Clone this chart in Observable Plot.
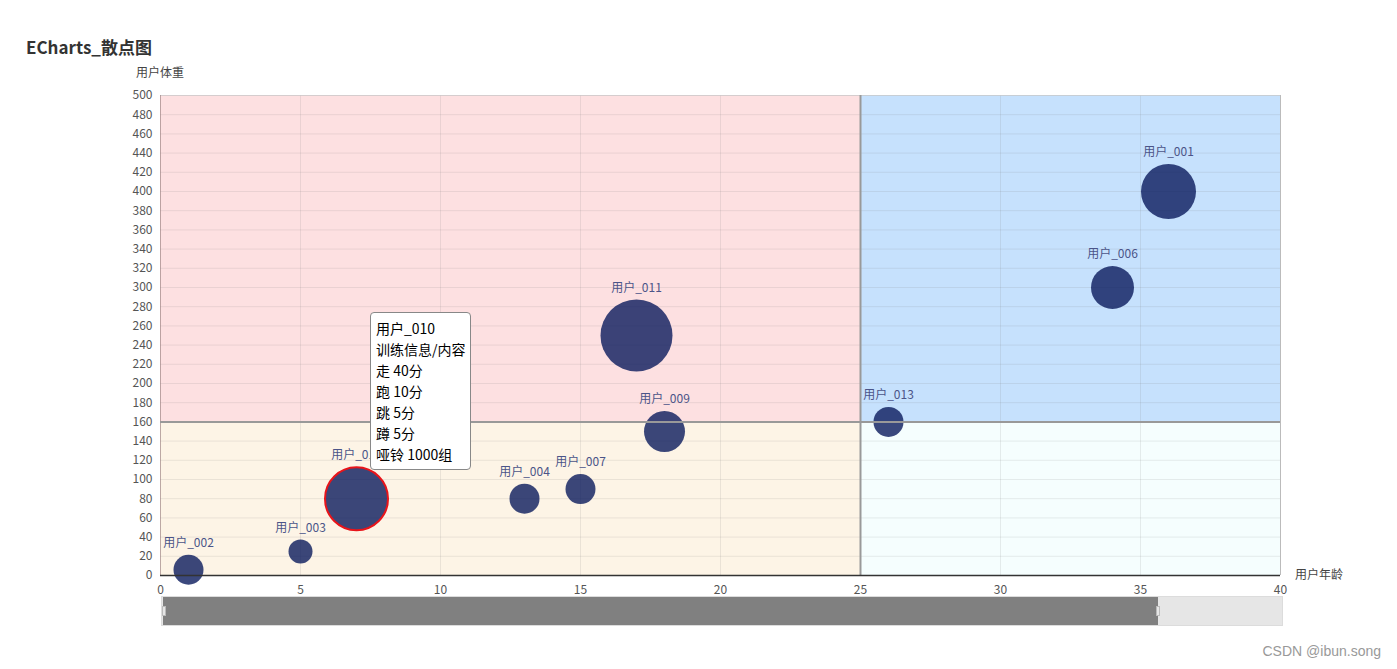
<!DOCTYPE html>
<html>
<head>
<meta charset="utf-8">
<script src="https://cdn.jsdelivr.net/npm/d3@7"></script>
<script src="https://cdn.jsdelivr.net/npm/@observablehq/plot@0.6"></script>
<style>
  html, body { margin: 0; padding: 0; background: #fff; }
  body { font-family: "Noto Sans CJK SC", "Noto Sans", sans-serif; }
  #wrap { position: relative; width: 1397px; height: 669px; overflow: hidden; }
  #chart { position: absolute; left: 0; top: 0; }
  .abs { position: absolute; white-space: nowrap; line-height: 1; }
  #title { left: 26px; top: 38px; font-size: 17px; font-weight: bold; color: #333; }
  #yname { left: 136px; top: 66px; font-size: 12px; color: #444; }
  #xname { left: 1295px; top: 568px; font-size: 12px; color: #444; }
  #slider { position: absolute; left: 161px; top: 596px; width: 1120px; height: 28px; background: #e6e6e6; border: 1px solid #dcdcdc; }
  #sliderFill { position: absolute; left: 1px; top: 0; height: 28px; background: #808080; }
  .handle { position: absolute; top: 9px; width: 4px; height: 10px; background: #e6e6e6; border: 1px solid #bbb; box-sizing: border-box; }
  #tooltip { position: absolute; left: 370px; top: 312px; width: 101px; height: 158px; box-sizing: border-box; background: #fff; border: 1px solid #888; border-radius: 4px; padding: 5px 0 0 5px; font-size: 14px; line-height: 21px; color: #000; }
  #watermark { right: 16px; top: 644px; font-size: 14px; color: #999; font-family: "Liberation Sans", "DejaVu Sans", sans-serif; }
</style>
</head>
<body>
<div id="wrap">
  <div id="chart"></div>
  <div class="abs" id="title">ECharts_散点图</div>
  <div class="abs" id="yname">用户体重</div>
  <div class="abs" id="xname">用户年龄</div>
  <div id="slider"><div id="sliderFill"></div><div class="handle" id="h1"></div><div class="handle" id="h2"></div></div>
  <div id="tooltip"></div>
  <div class="abs" id="watermark">CSDN @ibun.song</div>
</div>
<script>
// ---- data ----
const names   = ["用户_001","用户_002","用户_003","用户_004","用户_006","用户_007","用户_009","用户_010","用户_011","用户_013"];
const ages    = [36, 1, 5, 13, 34, 15, 18, 7, 17, 26];
const weights = [400, 6, 25, 80, 300, 90, 150, 80, 250, 160];
const symbolSizes = [55, 30, 24, 30, 43, 30, 41, 63, 72, 30];
const highlighted = "用户_010";

const xTicks = [0, 5, 10, 15, 20, 25, 30, 35, 40];
const yTicks = d3.range(0, 501, 20);
const xSplit = 25, ySplit = 160, xMax = 40, yMax = 500;
const zoomRange = [0, 89]; // dataZoom percent

const tooltipLines = ["用户_010", "训练信息/内容", "走 40分", "跑 10分", "跳 5分", "蹲 5分", "哑铃 1000组"];

// quadrant areas
const quadrants = [
  {x1: 0, x2: xSplit, y1: ySplit, y2: yMax, fill: "#fde0e1"},
  {x1: xSplit, x2: xMax, y1: ySplit, y2: yMax, fill: "#c6e1fd"},
  {x1: 0, x2: xSplit, y1: 0, y2: ySplit, fill: "#fdf4e6"},
  {x1: xSplit, x2: xMax, y1: 0, y2: ySplit, fill: "#f5fefe"}
];

const points = names.map((n, i) => ({name: n, age: ages[i], weight: weights[i], size: symbolSizes[i]}));

const font = "Noto Sans CJK SC, Noto Sans, sans-serif";

const labelMarks = points.map(p => Plot.text([p], {
  x: "age", y: "weight", text: "name",
  dy: -(p.size / 2 + 8), lineAnchor: "bottom",
  fill: "#4b5488", fontSize: 12, fontFamily: font
}));

const chart = Plot.plot({
  width: 1397, height: 669,
  marginLeft: 160, marginRight: 117, marginTop: 95, marginBottom: 94,
  style: {fontFamily: font, fontSize: "12px", color: "#555", background: "transparent"},
  x: {domain: [0, xMax], label: null},
  y: {domain: [0, yMax], label: null},
  r: {type: "linear", domain: [0, 40], range: [0, 40]},
  marks: [
    Plot.rect(quadrants, {x1: "x1", x2: "x2", y1: "y1", y2: "y2", fill: "fill"}),
    Plot.ruleX(xTicks.slice(1, -1), {stroke: "#777", strokeOpacity: 0.14}),
    Plot.ruleY(yTicks.slice(1), {stroke: "#777", strokeOpacity: 0.14}),
    Plot.ruleX([xMax], {stroke: "#bbb"}),
    Plot.ruleY([yMax], {stroke: "#ccc", strokeOpacity: 0.7}),
    Plot.ruleX([0], {stroke: "#a08888", strokeOpacity: 0.7}),
    Plot.dot(points, {
      x: "age", y: "weight", r: d => d.size / 2,
      fill: "#0a1a5c", fillOpacity: 0.8,
      stroke: d => d.name === highlighted ? "#e8141a" : "none",
      strokeWidth: 2
    }),
    ...labelMarks,
    Plot.ruleX([xSplit], {stroke: "#999", strokeWidth: 2}),
    Plot.ruleY([ySplit], {stroke: "#999", strokeWidth: 2}),
    Plot.ruleY([0], {stroke: "#333", strokeWidth: 1.5}),
    Plot.axisX({ticks: xTicks, tickSize: 0, tickPadding: 10, label: null, fill: "#555"}),
    Plot.axisY({ticks: yTicks, tickSize: 0, tickPadding: 8, label: null, fill: "#555"})
  ]
});
document.getElementById("chart").appendChild(chart);

// dataZoom slider
const sliderW = 1118;
const fillW = sliderW * (zoomRange[1] - zoomRange[0]) / 100;
document.getElementById("sliderFill").style.width = fillW + "px";
document.getElementById("h1").style.left = "0px";
document.getElementById("h2").style.left = (fillW - 1) + "px";

// tooltip
document.getElementById("tooltip").innerHTML = tooltipLines.map(t => `<div>${t}</div>`).join("");
</script>
</body>
</html>
